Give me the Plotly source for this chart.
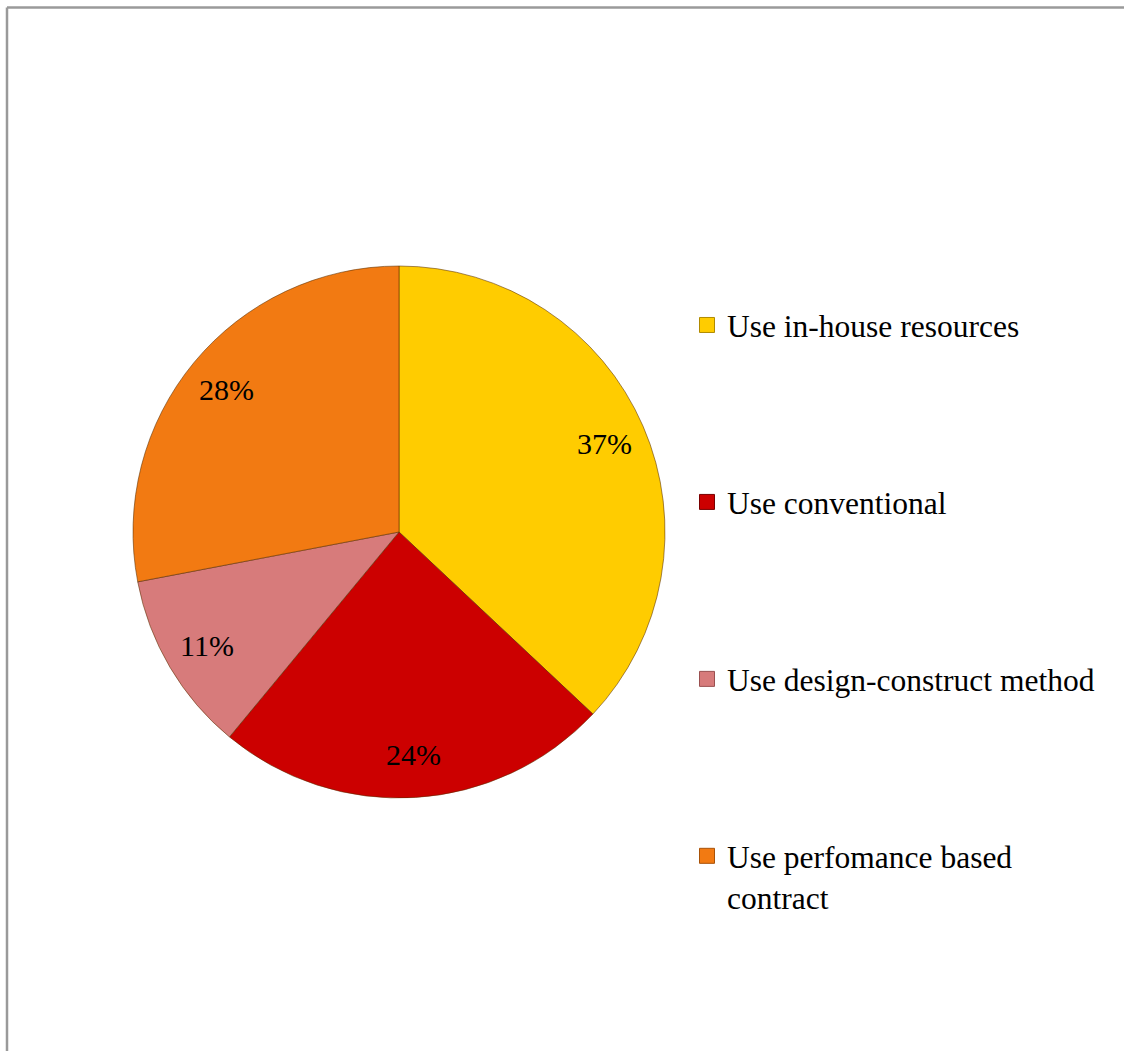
import math
import plotly.graph_objects as go

# Survey shares by procurement approach
categories = [
    "Use in-house resources",
    "Use conventional",
    "Use design-construct method",
    "Use perfomance based contract",
]
shares = [37, 24, 11, 28]
legend_names = [
    "Use in-house resources",
    "Use conventional",
    "Use design-construct method",
    "Use perfomance based<br>contract",
]
colors = ["#FFCC00", "#CC0000", "#D77B7B", "#F27A12"]
edge_colors = ["#B08A00", "#7A0000", "#9A5050", "#A85208"]

W, H = 1124, 1051
FONT = "Times New Roman, Liberation Serif, serif"

# Pie placement in pixels
cx, cy, r = 399, 532, 266
dom_x = [(cx - r) / W, (cx + r) / W]
dom_y = [1 - (cy + r) / H, 1 - (cy - r) / H]

fig = go.Figure()
fig.add_trace(
    go.Pie(
        labels=categories,
        values=shares,
        sort=False,
        direction="clockwise",
        rotation=0,
        marker=dict(colors=colors, line=dict(color="rgba(90,45,0,0.55)", width=1)),
        textinfo="none",
        hoverinfo="skip",
        showlegend=False,
        domain=dict(x=dom_x, y=dom_y),
    )
)

# Legend keys, one group per category so the entries can be spaced apart
for name, col, edge in zip(legend_names, colors, edge_colors):
    fig.add_trace(
        go.Scatter(
            x=[None], y=[None], mode="markers", name=name, legendgroup=name,
            marker=dict(symbol="square", size=15, color=col,
                        line=dict(color=edge, width=1)),
            hoverinfo="skip",
        )
    )

# Percentage labels placed along each slice's mid-angle
total = sum(shares)
acc = 0
annotations = []
for v in shares:
    mid = (acc + v / 2) / total * 2 * math.pi
    acc += v
    px = cx + 0.84 * r * math.sin(mid)
    py = cy - 0.84 * r * math.cos(mid)
    annotations.append(
        dict(
            x=px / W, y=1 - py / H, xref="paper", yref="paper",
            xanchor="center", yanchor="middle",
            text=f"{v}%", showarrow=False,
            font=dict(family=FONT, size=30, color="black"),
        )
    )

# Chart frame (top and left edges visible)
frame = dict(color="#9a9a9a", width=2.5)
shapes = [
    dict(type="line", xref="paper", yref="paper", x0=7 / W, x1=1.02,
         y0=1 - 7.5 / H, y1=1 - 7.5 / H, line=frame),
    dict(type="line", xref="paper", yref="paper", x0=7 / W, x1=7 / W,
         y0=1 - 7.5 / H, y1=-0.02, line=frame),
]

fig.update_layout(
    width=W, height=H,
    margin=dict(l=0, r=0, t=0, b=0),
    paper_bgcolor="white",
    plot_bgcolor="white",
    xaxis=dict(visible=False),
    yaxis=dict(visible=False),
    showlegend=True,
    legend=dict(
        x=687 / W, y=1 - 298 / H, xanchor="left", yanchor="top",
        font=dict(family=FONT, size=31.5, color="black"),
        valign="top",
        bgcolor="rgba(0,0,0,0)",
        traceorder="grouped",
        tracegroupgap=133,
    ),
    annotations=annotations,
    shapes=shapes,
)

fig.write_html("out.html")
